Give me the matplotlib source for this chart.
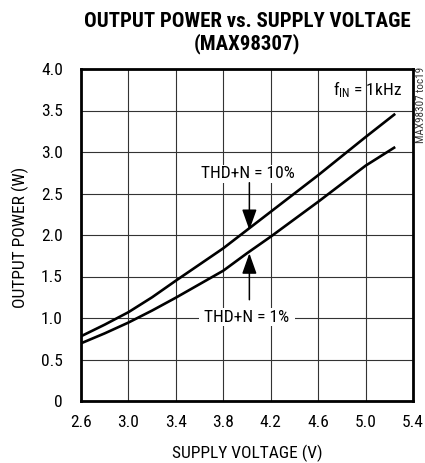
import matplotlib
matplotlib.use("Agg")
import matplotlib.pyplot as plt
import numpy as np

BODY = ['Roboto Condensed', 'Archivo Narrow', 'PT Sans Narrow', 'Fira Sans Condensed', 'DejaVu Sans']
TITLE = ['Roboto Condensed', 'Archivo Narrow', 'Fira Sans Condensed', 'DejaVu Sans']
plt.rcParams['font.family'] = BODY
plt.rcParams['mathtext.default'] = 'regular'

# Data
voltage = [2.6, 2.8, 3.0, 3.2, 3.4, 3.8, 4.0, 4.2, 4.6, 5.0, 5.25]
power_thd10 = [0.78, 0.92, 1.07, 1.25, 1.45, 1.84, 2.06, 2.28, 2.72, 3.18, 3.46]
power_thd1 = [0.695, 0.815, 0.945, 1.09, 1.245, 1.57, 1.78, 1.98, 2.40, 2.835, 3.06]

x_ticks = [2.6, 3.0, 3.4, 3.8, 4.2, 4.6, 5.0, 5.4]
x_tick_labels = ['2.6', '3.0', '3.4', '3.8', '4.2', '4.6', '5.0', '5.4']
y_ticks = [0, 0.5, 1.0, 1.5, 2.0, 2.5, 3.0, 3.5, 4.0]
y_tick_labels = ['0', '0.5', '1.0', '1.5', '2.0', '2.5', '3.0', '3.5', '4.0']

W, H = 425, 463
fig = plt.figure(figsize=(W / 100, H / 100), dpi=100)
ax = fig.add_axes([81 / W, 1 - 401 / H, (413 - 81) / W, (401 - 69) / H])

ax.set_xlim(2.6, 5.4)
ax.set_ylim(0, 4.0)
ax.set_xticks(x_ticks)
ax.set_xticklabels(x_tick_labels)
ax.set_yticks(y_ticks)
ax.set_yticklabels(y_tick_labels)
ax.tick_params(axis='both', length=0, labelsize=12.5, colors='black')
ax.tick_params(axis='x', pad=10)
ax.tick_params(axis='y', pad=13)
ax.grid(True, color='#333333', linewidth=0.8)
ax.set_axisbelow(True)
for s in ax.spines.values():
    s.set_linewidth(2.0)
    s.set_color('black')

ax.plot(voltage, power_thd10, color='black', lw=1.9, solid_capstyle='butt', zorder=3)
ax.plot(voltage, power_thd1, color='black', lw=1.9, solid_capstyle='butt', zorder=3)

# annotations
box = dict(boxstyle='square,pad=0.1', fc='white', ec='none')
ax.text(4.01, 2.683, ' THD+N = 10% ', ha='center', va='baseline', fontsize=12.5, bbox=box, zorder=4)
ax.text(4.0, 0.955, ' THD+N = 1% ', ha='center', va='baseline', fontsize=12.5, bbox=box, zorder=4)
arrow = dict(arrowstyle='-|>,head_length=0.9,head_width=0.32', color='black', lw=1.1,
             shrinkA=0, shrinkB=0, mutation_scale=14)
ax.annotate('', xy=(4.02, 2.06), xytext=(4.02, 2.63), arrowprops=arrow, zorder=5)
ax.annotate('', xy=(4.02, 1.78), xytext=(4.02, 1.22), arrowprops=arrow, zorder=5)

ax.text(5.306, 3.687, r'f$_{\mathregular{IN}}$ = 1kHz', ha='right', va='baseline', fontsize=12.5)

# titles and labels
fig.text(247 / W, 1 - 26.7 / H, 'OUTPUT POWER vs. SUPPLY VOLTAGE', ha='center', va='baseline',
         fontsize=15, fontweight='black', family=TITLE)
fig.text(247 / W, 1 - 49.5 / H, '(MAX98307)', ha='center', va='baseline',
         fontsize=15, fontweight='black', family=TITLE)
fig.text(247 / W, 1 - 458 / H, 'SUPPLY VOLTAGE (V)', ha='center', va='baseline', fontsize=12.5)
fig.text(25 / W, 1 - 237 / H, 'OUTPUT POWER (W)', ha='center', va='baseline', rotation=90,
         rotation_mode='anchor', fontsize=12.5)
fig.text(424 / W, 1 - 67 / H, 'MAX98307 toc19', ha='right', va='baseline', rotation=90,
         rotation_mode='anchor', fontsize=8, color='#333333')

fig.savefig('out.png', dpi=100)
